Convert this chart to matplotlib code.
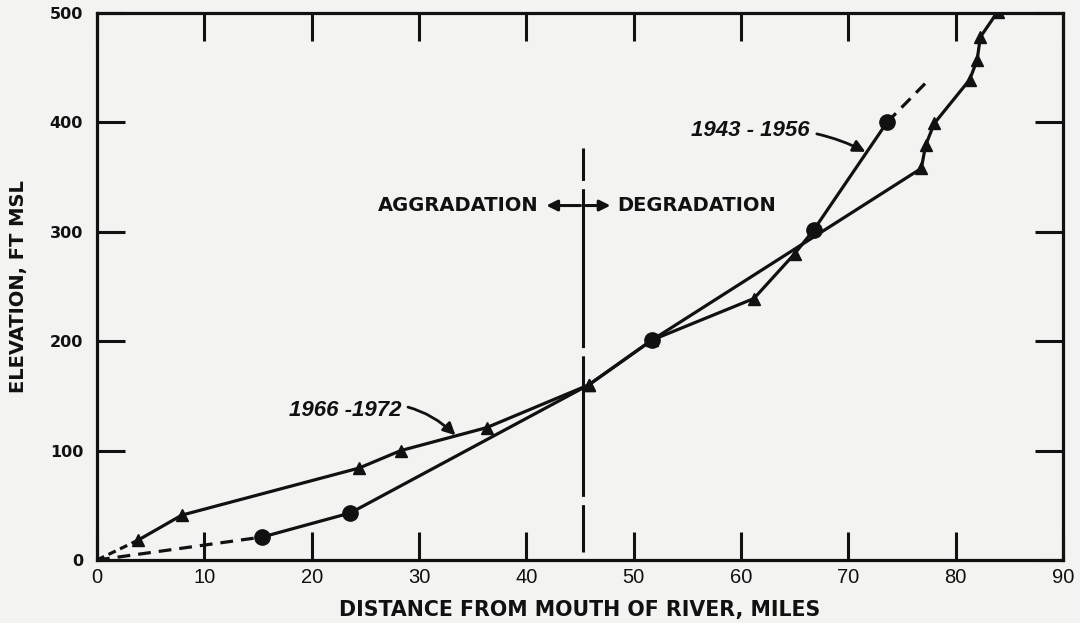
import matplotlib
matplotlib.use("Agg")
import matplotlib.pyplot as plt

# river profile, distance (miles) vs elevation (ft msl)
x_4356 = [15.4, 23.6, 45.8, 51.7, 61.2, 65.0, 66.8, 73.6]
y_4356 = [21, 43, 160, 201, 239, 280, 302, 400]
mk_4356 = ['o', 'o', '^', 'o', '^', '^', 'o', 'o']
# dashed (estimated) ends of the 1943-1956 profile
x_4356_lo = [0, 15.4]
y_4356_lo = [0, 21]
x_4356_hi = [73.6, 77.2]
y_4356_hi = [400, 436]

x_6672 = [3.8, 7.9, 24.4, 28.3, 36.3, 45.8, 51.7, 76.8, 77.2, 78.0, 81.3, 82.0, 82.3, 83.9]
y_6672 = [18, 41, 84, 100, 121, 160, 201, 358, 379, 399, 439, 457, 478, 501]
x_6672_lo = [0, 3.8]
y_6672_lo = [0, 18]

divide_x = 45.3
divide_y = [7, 377]

xticks = list(range(0, 100, 10))
yticks = list(range(0, 600, 100))

ink = '#111111'
paper = '#f3f3f1'

fig = plt.figure(figsize=(10.8, 6.23), dpi=100, facecolor=paper)
ax = fig.add_axes([97 / 1080, 1 - 560 / 623, (1063 - 97) / 1080, (560 - 13) / 623])
ax.set_facecolor(paper)

lw = 2.3
ax.plot(x_4356, y_4356, color=ink, lw=lw, solid_joinstyle='round')
ax.plot(x_4356_lo, y_4356_lo, color=ink, lw=lw, ls=(0, (4, 2.5)))
ax.plot(x_4356_hi, y_4356_hi, color=ink, lw=lw, ls=(0, (4, 2.5)))
for xi, yi, m in zip(x_4356, y_4356, mk_4356):
    ax.plot(xi, yi, marker=m, ms=11 if m == 'o' else 9, color=ink, zorder=4)

ax.plot(x_6672, y_6672, color=ink, lw=lw, marker='^', ms=9, solid_joinstyle='round')
ax.plot(x_6672_lo, y_6672_lo, color=ink, lw=lw, ls=(0, (2.5, 1.5)))
ax.plot(0, 0, marker='o', ms=5, color=ink)

# aggradation / degradation divide, long dashes
ax.plot([divide_x, divide_x], divide_y, color=ink, lw=2.2,
        ls=(0, (15.5, 2.7, 46, 2.7, 52, 2.7, 40, 2.7)))

ax.set_xlim(0, 90)
ax.set_ylim(0, 500)
ax.set_xticks(xticks)
ax.set_yticks(yticks)
for s in ax.spines.values():
    s.set_linewidth(2.3)
    s.set_color(ink)
ax.tick_params(direction='in', length=20, width=2.2, color=ink, top=True, right=True)
ax.tick_params(axis='x', pad=6)
ax.tick_params(axis='y', pad=10)
for t in ax.get_xticklabels():
    t.set_family('Liberation Sans')
    t.set_fontsize(14.5)
    t.set_color(ink)
for t in ax.get_yticklabels():
    t.set_family('DejaVu Sans')
    t.set_fontweight('bold')
    t.set_fontsize(11.5)
    t.set_color(ink)

lab = dict(family='DejaVu Sans', fontsize=14, fontweight='bold', color=ink)
ax.set_xlabel('DISTANCE FROM MOUTH OF RIVER, MILES', labelpad=9,
              family='DejaVu Sans', fontsize=14.8, fontweight='bold', color=ink)
ax.set_ylabel('ELEVATION, FT MSL', labelpad=16, **lab)

ax.text(41.1, 324, 'AGGRADATION', ha='right', va='center', **lab)
ax.text(48.5, 324, 'DEGRADATION', ha='left', va='center', **lab)
for tx in (41.6, 48.1):
    ax.annotate('', xy=(tx, 324), xytext=(divide_x, 324),
                arrowprops=dict(arrowstyle='-|>', color=ink, lw=2.2, mutation_scale=16))

note = dict(family='Liberation Sans', fontsize=16,
            fontweight='bold', style='italic', color=ink)
ax.annotate('1943 - 1956', xy=(71.6, 373), xytext=(60.9, 393), ha='center', va='center',
            arrowprops=dict(arrowstyle='-|>', color=ink, lw=2, mutation_scale=18,
                            connectionstyle='arc3,rad=-0.15', shrinkA=3, shrinkB=0), **note)
ax.annotate('1966 -1972', xy=(33.4, 114), xytext=(23.1, 137), ha='center', va='center',
            arrowprops=dict(arrowstyle='-|>', color=ink, lw=2, mutation_scale=18,
                            connectionstyle='arc3,rad=-0.3', shrinkA=3, shrinkB=0), **note)

fig.savefig('out.png', dpi=100, facecolor=paper)
